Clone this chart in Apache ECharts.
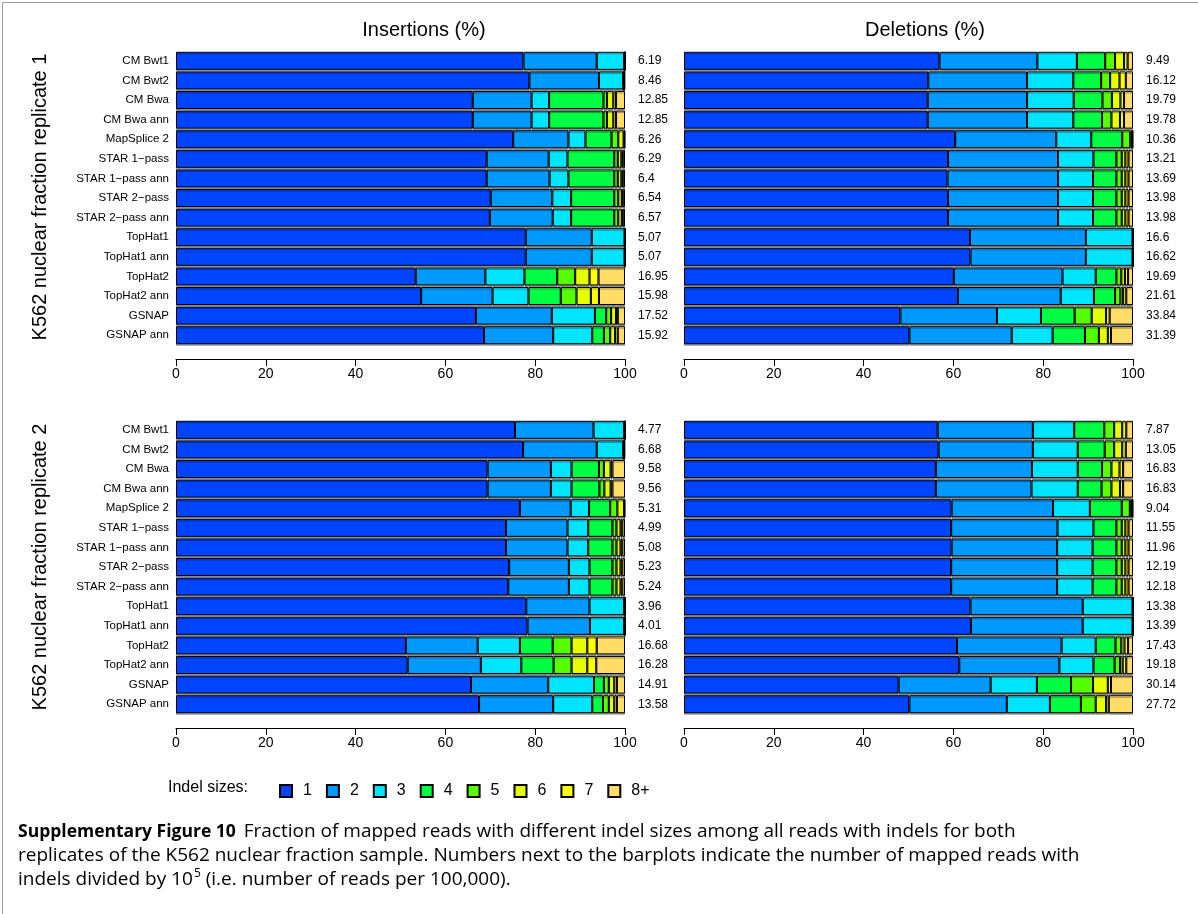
<!DOCTYPE html>
<html>
<head>
<meta charset="utf-8">
<script src="https://cdn.jsdelivr.net/npm/echarts@6/dist/echarts.min.js"></script>
<style>
  html, body { margin: 0; padding: 0; background: #fff; }
  #chart { width: 1198px; height: 914px; }
</style>
</head>
<body>
<div id="chart"></div>
<script>
// aligners, top to bottom
const categories = ['CM Bwt1', 'CM Bwt2', 'CM Bwa', 'CM Bwa ann', 'MapSplice 2',
  'STAR 1\u2212pass', 'STAR 1\u2212pass ann', 'STAR 2\u2212pass', 'STAR 2\u2212pass ann',
  'TopHat1', 'TopHat1 ann', 'TopHat2', 'TopHat2 ann', 'GSNAP', 'GSNAP ann']
const sizes = ['1', '2', '3', '4', '5', '6', '7', '8+']
const sizeColors = ['#0044ff', '#0099ff', '#00e5ff', '#00ff44', '#55ff00', '#e5ff00', '#ffff00', '#ffdd66']
const xTicks = [0, 20, 40, 60, 80, 100]

// % of reads per indel size (1..8+), one row per aligner
const insRep1 = [
  [77.4, 16.3, 6.1, 0.1, 0.05, 0.02, 0.01, 0.02],
  [78.7, 15.5, 5.4, 0.1, 0.05, 0.05, 0.05, 0.15],
  [66.1, 13.1, 3.9, 12.1, 0.8, 1.4, 0.6, 2.0],
  [66.1, 13.1, 3.9, 12.1, 0.8, 1.4, 0.6, 2.0],
  [75.1, 12.3, 3.8, 5.8, 1.5, 1.2, 0.2, 0.1],
  [69.2, 13.8, 4.2, 10.4, 0.8, 0.8, 0.3, 0.5],
  [69.2, 14.0, 4.2, 10.2, 0.8, 0.8, 0.3, 0.5],
  [70.1, 13.7, 4.2, 9.6, 0.9, 0.8, 0.2, 0.5],
  [69.9, 14.0, 4.1, 9.6, 0.9, 0.8, 0.2, 0.5],
  [77.9, 14.7, 7.3, 0.05, 0.02, 0.01, 0.01, 0.01],
  [77.9, 14.7, 7.3, 0.05, 0.02, 0.01, 0.01, 0.01],
  [53.4, 15.5, 8.7, 7.3, 4.0, 3.2, 2.0, 5.9],
  [54.6, 15.9, 8.0, 7.2, 3.5, 3.2, 1.8, 5.8],
  [66.8, 16.9, 9.6, 2.5, 1.1, 1.1, 0.4, 1.6],
  [68.6, 15.4, 8.7, 2.6, 1.4, 1.1, 0.6, 1.6],
]
const delRep1 = [
  [56.9, 21.8, 8.8, 6.3, 2.2, 2.0, 0.8, 1.2],
  [54.4, 22.0, 10.3, 6.2, 2.0, 2.1, 1.4, 1.6],
  [54.3, 22.1, 10.4, 6.4, 2.1, 1.9, 0.8, 2.0],
  [54.3, 22.1, 10.3, 6.4, 2.1, 1.9, 0.9, 2.0],
  [60.4, 22.5, 7.8, 6.9, 1.8, 0.4, 0.1, 0.1],
  [58.8, 24.5, 7.9, 5.1, 1.2, 0.8, 0.7, 1.0],
  [58.7, 24.6, 7.8, 5.2, 1.2, 0.8, 0.7, 1.0],
  [58.8, 24.5, 7.8, 5.2, 1.2, 0.8, 0.7, 1.0],
  [58.8, 24.5, 7.8, 5.2, 1.2, 0.8, 0.7, 1.0],
  [63.7, 25.8, 10.4, 0.05, 0.02, 0.01, 0.01, 0.01],
  [63.8, 25.7, 10.4, 0.05, 0.02, 0.01, 0.01, 0.01],
  [60.1, 24.2, 7.4, 4.6, 1.1, 0.8, 0.7, 1.1],
  [61.0, 22.9, 7.4, 4.7, 1.2, 0.6, 0.7, 1.5],
  [48.2, 21.5, 9.8, 7.5, 3.8, 3.2, 0.8, 5.2],
  [50.2, 22.8, 9.1, 7.2, 3.1, 2.0, 0.7, 4.9],
]
const insRep2 = [
  [75.5, 17.5, 6.8, 0.1, 0.04, 0.02, 0.02, 0.02],
  [77.3, 16.4, 5.9, 0.1, 0.05, 0.05, 0.05, 0.15],
  [69.4, 14.1, 4.6, 6.1, 1.1, 1.5, 0.4, 2.8],
  [69.4, 14.1, 4.6, 6.2, 1.1, 1.4, 0.4, 2.8],
  [76.6, 11.3, 4.1, 4.7, 1.6, 1.5, 0.1, 0.1],
  [73.5, 13.7, 4.6, 5.4, 0.9, 0.9, 0.4, 0.6],
  [73.5, 13.7, 4.6, 5.4, 0.9, 0.9, 0.4, 0.6],
  [74.2, 13.3, 4.6, 5.1, 0.9, 0.9, 0.4, 0.6],
  [74.0, 13.5, 4.6, 5.1, 0.9, 0.9, 0.4, 0.6],
  [78.0, 14.1, 7.7, 0.1, 0.04, 0.02, 0.02, 0.02],
  [78.3, 13.9, 7.6, 0.1, 0.04, 0.02, 0.02, 0.02],
  [51.2, 16.0, 9.4, 7.3, 4.2, 3.5, 2.1, 6.3],
  [51.6, 16.3, 9.0, 7.2, 4.0, 3.5, 2.0, 6.4],
  [65.7, 17.2, 10.2, 2.2, 1.1, 1.2, 0.6, 1.8],
  [67.5, 16.5, 8.7, 2.4, 1.3, 1.2, 0.6, 1.8],
]
const delRep2 = [
  [56.5, 21.2, 9.2, 6.7, 2.2, 1.8, 0.9, 1.5],
  [56.7, 21.0, 10.0, 6.0, 2.1, 1.8, 0.8, 1.6],
  [56.1, 21.4, 10.2, 5.4, 2.1, 1.8, 0.8, 2.2],
  [56.1, 21.3, 10.3, 5.3, 2.2, 1.9, 0.7, 2.2],
  [59.6, 22.6, 8.2, 7.1, 1.8, 0.5, 0.1, 0.1],
  [59.5, 23.7, 8.0, 5.1, 1.2, 0.8, 0.7, 1.0],
  [59.6, 23.5, 7.9, 5.3, 1.2, 0.8, 0.7, 1.0],
  [59.5, 23.6, 7.9, 5.3, 1.2, 0.8, 0.7, 1.0],
  [59.5, 23.6, 7.9, 5.3, 1.2, 0.8, 0.7, 1.0],
  [63.8, 25.0, 11.1, 0.05, 0.02, 0.01, 0.01, 0.01],
  [63.9, 24.9, 11.1, 0.05, 0.02, 0.01, 0.01, 0.01],
  [60.8, 23.3, 7.6, 4.4, 1.3, 0.7, 0.8, 1.1],
  [61.3, 22.3, 7.6, 4.7, 1.2, 0.6, 0.8, 1.5],
  [47.8, 20.5, 10.3, 7.6, 4.9, 3.3, 0.7, 4.9],
  [50.2, 21.7, 9.6, 6.9, 3.3, 2.3, 0.6, 5.4],
]

// mapped reads with indels / 10^5
const insCount1 = ['6.19', '8.46', '12.85', '12.85', '6.26', '6.29', '6.4', '6.54', '6.57', '5.07', '5.07', '16.95', '15.98', '17.52', '15.92']
const delCount1 = ['9.49', '16.12', '19.79', '19.78', '10.36', '13.21', '13.69', '13.98', '13.98', '16.6', '16.62', '19.69', '21.61', '33.84', '31.39']
const insCount2 = ['4.77', '6.68', '9.58', '9.56', '5.31', '4.99', '5.08', '5.23', '5.24', '3.96', '4.01', '16.68', '16.28', '14.91', '13.58']
const delCount2 = ['7.87', '13.05', '16.83', '16.83', '9.04', '11.55', '11.96', '12.19', '12.18', '13.38', '13.39', '17.43', '19.18', '30.14', '27.72']

const FONT = '"Liberation Sans", Arial, sans-serif'
const CAP_FONT = '"Open Sans", "Liberation Sans", sans-serif'

const panels = [
  { rows: insRep1, counts: insCount1, left: 176, top: 51, names: true },
  { rows: delRep1, counts: delCount1, left: 684, top: 51, names: false },
  { rows: insRep2, counts: insCount2, left: 176, top: 420, names: true },
  { rows: delRep2, counts: delCount2, left: 684, top: 420, names: false },
]

const chart = echarts.init(document.getElementById('chart'))

const grid = []
const xAxis = []
const yAxis = []
const series = []

panels.forEach((p, i) => {
  grid.push({ left: p.left, top: p.top, width: 449, height: 294 })
  xAxis.push({
    gridIndex: i,
    type: 'value',
    min: 0,
    max: 100,
    interval: 20,
    offset: 14,
    splitLine: { show: false },
    axisLine: { show: true, lineStyle: { color: '#000', width: 1 } },
    axisTick: { show: true, length: 7, lineStyle: { color: '#000' } },
    axisLabel: { color: '#000', fontSize: 14, fontFamily: FONT, margin: 8,
      formatter: (v) => (xTicks.includes(v) ? String(v) : '') },
  })
  yAxis.push({
    gridIndex: i,
    type: 'category',
    inverse: true,
    data: categories,
    axisLine: { show: false },
    axisTick: { show: false },
    axisLabel: { show: p.names, color: '#000', fontSize: 11.5, fontFamily: FONT, margin: 7 },
  })
  yAxis.push({
    gridIndex: i,
    type: 'category',
    inverse: true,
    position: 'right',
    data: p.counts,
    axisLine: { show: false },
    axisTick: { show: false },
    axisLabel: { color: '#000', fontSize: 12, fontFamily: FONT, margin: 13 },
  })
  sizes.forEach((s, j) => {
    series.push({
      type: 'bar',
      name: s,
      stack: 'panel' + i,
      xAxisIndex: i,
      yAxisIndex: i * 2,
      barCategoryGap: '8%',
      itemStyle: {
        color: sizeColors[j], borderColor: '#000', borderWidth: 1,
        shadowColor: 'rgba(0,0,0,0.35)', shadowOffsetY: 1.5, shadowBlur: 0,
      },
      data: p.rows.map((r) => r[j]),
    })
  })
})

chart.setOption({
  animation: false,
  backgroundColor: '#fff',
  color: sizeColors,
  grid,
  xAxis,
  yAxis,
  series,
  legend: {
    data: sizes,
    left: 274,
    top: 778,
    icon: 'rect',
    itemWidth: 12,
    itemHeight: 12,
    itemGap: 14,
    itemStyle: { shadowColor: 'transparent' },
    textStyle: { color: '#000', fontSize: 16, fontFamily: FONT, padding: [0, 0, 0, 6] },
  },
  graphic: [
    { type: 'rect', left: 0, top: 0, shape: { width: 1197, height: 913 },
      style: { fill: 'none', stroke: '#9a9a9a', lineWidth: 1 } },
    { type: 'text', x: 424, y: 30,
      style: { text: 'Insertions (%)', font: '20px ' + FONT, fill: '#000', align: 'center', verticalAlign: 'middle' } },
    { type: 'text', x: 925, y: 30,
      style: { text: 'Deletions (%)', font: '20px ' + FONT, fill: '#000', align: 'center', verticalAlign: 'middle' } },
    { type: 'text', x: 40, y: 197, rotation: Math.PI / 2,
      style: { text: 'K562 nuclear fraction replicate 1', font: '20px ' + FONT, fill: '#000', align: 'center', verticalAlign: 'middle' } },
    { type: 'text', x: 40, y: 567, rotation: Math.PI / 2,
      style: { text: 'K562 nuclear fraction replicate 2', font: '20px ' + FONT, fill: '#000', align: 'center', verticalAlign: 'middle' } },
    { type: 'text', x: 168, y: 788,
      style: { text: 'Indel sizes:', font: '16px ' + FONT, fill: '#000', align: 'left', verticalAlign: 'middle' } },
    { type: 'text', x: 18, y: 820,
      style: {
        text: '{b|Supplementary Figure 10} Fraction of mapped reads with different indel sizes among all reads with indels for both\n' +
          'replicates of the K562 nuclear fraction sample. Numbers next to the barplots indicate the number of mapped reads with\n' +
          'indels divided by 10{sup|5} (i.e. number of reads per 100,000).',
        font: '19px ' + CAP_FONT,
        fill: '#000',
        lineHeight: 24,
        rich: {
          b: { fontWeight: 'bold', fontSize: 17.5, fontFamily: CAP_FONT, padding: [0, 3, 0, 0] },
          sup: { fontSize: 12, fontFamily: CAP_FONT, verticalAlign: 'top', padding: [0, 0, 8, 1] },
        },
      } },
  ],
})
</script>
</body>
</html>
